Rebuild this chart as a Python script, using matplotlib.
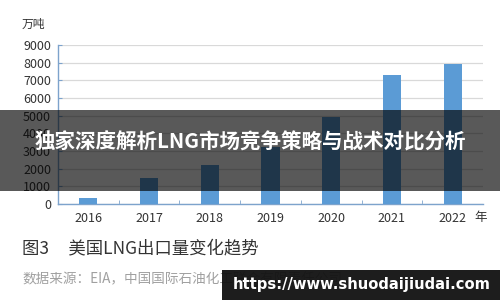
import matplotlib.pyplot as plt
from matplotlib.patches import Rectangle

plt.rcParams['font.family'] = ['Noto Sans CJK SC', 'DejaVu Sans']

years = ['2016', '2017', '2018', '2019', '2020', '2021', '2022']
exports = [340, 1470, 2200, 3200, 4900, 7300, 7950]
y_ticks = [0, 1000, 2000, 3000, 4000, 5000, 6000, 7000, 8000, 9000]

fig = plt.figure(figsize=(5, 3), dpi=100)
ax = fig.add_axes([0.116, 0.32, 0.85, 0.53])

x = list(range(len(years)))
ax.bar(x, exports, width=0.3, color='#5b9bd5', zorder=3)
ax.set_xlim(-0.5, len(years) - 0.5)
ax.set_ylim(0, 9000)
ax.set_yticks(y_ticks)
ax.set_xticks(x)
ax.set_xticklabels(years)
ax.set_xticks([i + 0.5 for i in x[:-1]], minor=True)
ax.grid(axis='y', color='#d9d9d9', linewidth=0.9, zorder=0)

for side in ['top', 'right']:
    ax.spines[side].set_visible(False)
for side in ['left', 'bottom']:
    ax.spines[side].set_color('#7da3cc')
    ax.spines[side].set_linewidth(1.0)

ax.tick_params(axis='y', direction='in', length=3, color='#7da3cc',
               labelsize=9, labelcolor='#333333', pad=5)
ax.tick_params(axis='x', which='major', length=0, labelsize=9,
               labelcolor='#333333', pad=6)
ax.tick_params(axis='x', which='minor', direction='in', length=3, color='#7da3cc')

fig.text(0.044, 0.92, '万吨', fontsize=8.5, color='#333333', va='center')
fig.text(0.948, 1 - 217 / 300, '年', fontsize=9, color='#333333', va='center')

fig.text(0.044, 1 - 248 / 300, '图3     美国LNG出口量变化趋势', fontsize=12.5,
         color='#333333', va='center')
fig.text(0.044, 1 - 279 / 300, '数据来源：EIA，中国国际石油化工联合有限责任公司',
         fontsize=9.8, color='#a0a0a0', va='center')

# dark banner across the middle
fig.patches.append(Rectangle((0, 1 - 191 / 300), 1, 81 / 300, transform=fig.transFigure,
                             facecolor='black', alpha=0.65, zorder=10))
fig.text(0.5, 1 - 142 / 300, '独家深度解析LNG市场竞争策略与战术对比分析', fontsize=14.8,
         fontweight='bold', color='white', ha='center', va='center', zorder=11)

# watermark box bottom right
fig.patches.append(Rectangle((222 / 500, 0), 1, 30 / 300, transform=fig.transFigure,
                             facecolor='#111111', alpha=0.95, zorder=10))
fig.text(0.466, 0.05, 'https://www.shuodaijiudai.com', fontsize=10.6, fontweight='bold',
         color='white', va='center', family=['DejaVu Sans'], zorder=11)

fig.savefig('out.png', dpi=100)
